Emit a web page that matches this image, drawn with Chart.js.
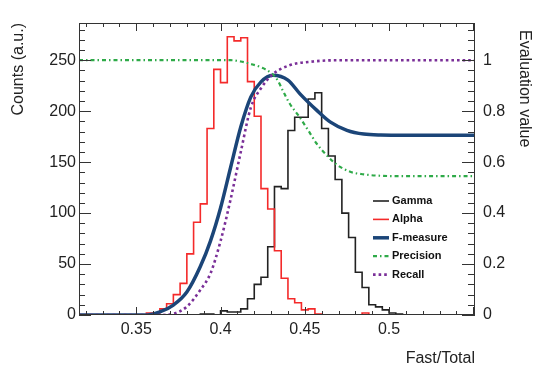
<!DOCTYPE html>
<html>
<head>
<meta charset="utf-8">
<script src="https://cdn.jsdelivr.net/npm/chart.js@4"></script>
<style>
  html, body { margin: 0; padding: 0; background: #fff; }
  canvas { display: block; }
</style>
</head>
<body>
<canvas id="fomChart" width="545" height="372"></canvas>
<script>
// histogram binning (Fast/Total)
const binStart = 0.32;
const binWidth = 0.004;

const gammaCounts = [0,0,0,0,0,0,0,0,0,0, 0,0,0,0,0,0,0,1,1,0,
  4,3,3,6,16,30,37,67,126,124, 181,194,194,212,218,183,156,133,100,76,
  42,27,10,8,5,2,1,0,0,0, 0,0,0,0,0,0,0,0];
const alphaCounts = [0,0,0,0,0,0,0,0,0,2, 2,6,11,20,31,60,91,109,183,241,
  228,273,269,272,229,195,124,104,63,36, 16,12,5,6,1,0,0,0,0,0,
  0,2,0,0,0,0,0,0,0,0, 0,0,0,0,0,0,0,0];

// evaluation curves (right axis)
const fMeasureX = [0.316, 0.350, 0.356, 0.364, 0.372, 0.380, 0.388, 0.394, 0.400, 0.406, 0.412, 0.418,
  0.424, 0.431, 0.440, 0.447, 0.457, 0.465, 0.475, 0.485, 0.495, 0.510, 0.551];
const fMeasureY = [0, 0, 0, 0.012, 0.039, 0.09, 0.19, 0.29, 0.42, 0.58, 0.738, 0.856,
  0.915, 0.941, 0.922, 0.869, 0.804, 0.758, 0.725, 0.71, 0.706, 0.705, 0.705];

const precisionX = [0.316, 0.406, 0.412, 0.418, 0.424, 0.430, 0.434, 0.437, 0.441, 0.446, 0.452,
  0.457, 0.463, 0.469, 0.477, 0.485, 0.493, 0.507, 0.551];
const precisionY = [1, 1, 0.995, 0.985, 0.972, 0.95, 0.92, 0.88, 0.83, 0.785, 0.725,
  0.673, 0.627, 0.59, 0.562, 0.552, 0.547, 0.545, 0.545];

const recallX = [0.316, 0.362, 0.372, 0.380, 0.388, 0.394, 0.400, 0.406, 0.412, 0.418, 0.424,
  0.431, 0.441, 0.455, 0.471, 0.551];
const recallY = [0, 0, 0.005, 0.033, 0.098, 0.163, 0.29, 0.455, 0.64, 0.815, 0.89,
  0.945, 0.98, 0.995, 1.0, 1.0];

// tick labels
const fastTicks = [0.35, 0.4, 0.45, 0.5];
const countTicks = [0, 50, 100, 150, 200, 250];
const evalTicks = [0, 0.2, 0.4, 0.6, 0.8, 1];

const tickFont = { family: 'Liberation Sans, Arial, sans-serif', size: 16 };

function histPoints(counts) {
  const pts = counts.map((c, k) => ({ x: binStart + k * binWidth, y: c }));
  pts.push({ x: binStart + counts.length * binWidth, y: counts[counts.length - 1] });
  return pts;
}
function curvePoints(xs, ys) {
  return xs.map((x, i) => ({ x: x, y: ys[i] }));
}

const rootFrame = {
  id: 'rootFrame',
  afterDatasetsDraw(chart) {
    const { ctx, chartArea: a, scales } = chart;
    const x = scales.x, yl = scales.yCounts, yr = scales.yEval;
    ctx.save();
    ctx.strokeStyle = '#333';
    ctx.lineWidth = 1;
    ctx.beginPath();
    for (let i = 32; i <= 55; i++) {
      const px = Math.round(x.getPixelForValue(i / 100)) + 0.5;
      const len = i % 5 === 0 ? 8 : 4;
      ctx.moveTo(px, a.bottom); ctx.lineTo(px, a.bottom - len);
      ctx.moveTo(px, a.top); ctx.lineTo(px, a.top + len);
    }
    for (let c = 0; c <= 280; c += 10) {
      const py = Math.round(yl.getPixelForValue(c)) + 0.5;
      const len = c % 50 === 0 ? 12 : 6;
      ctx.moveTo(a.left, py); ctx.lineTo(a.left + len, py);
    }
    for (let i = 0; i <= 28; i++) {
      const py = Math.round(yr.getPixelForValue(i * 0.04)) + 0.5;
      const len = i % 5 === 0 ? 13 : 7;
      ctx.moveTo(a.right, py); ctx.lineTo(a.right - len, py);
    }
    ctx.stroke();
    ctx.strokeRect(a.left + 0.5, a.top + 0.5, a.right - a.left - 1, a.bottom - a.top - 1);

    // legend
    ctx.font = 'bold 11px Liberation Sans, Arial, sans-serif';
    ctx.textBaseline = 'middle';
    ctx.fillStyle = '#111';
    chart.data.datasets.forEach((ds, row) => {
      const yy = 201 + row * 18.4;
      ctx.save();
      ctx.strokeStyle = ds.borderColor;
      ctx.lineWidth = ds.borderWidth;
      ctx.setLineDash(ds.borderDash || []);
      ctx.beginPath();
      ctx.moveTo(373, yy); ctx.lineTo(389, yy);
      ctx.stroke();
      ctx.restore();
      ctx.fillText(ds.label, 392, yy);
    });
    ctx.restore();
  },
  afterDraw(chart) {
    const { ctx, chartArea: a } = chart;
    ctx.save();
    ctx.fillStyle = '#222';
    ctx.font = '16px Liberation Sans, Arial, sans-serif';
    ctx.textBaseline = 'middle';
    // left title
    ctx.save();
    ctx.translate(19, a.top);
    ctx.rotate(-Math.PI / 2);
    ctx.textAlign = 'right';
    ctx.fillText('Counts (a.u.)', 0, 0);
    ctx.restore();
    // right title
    ctx.save();
    ctx.translate(524, 30);
    ctx.rotate(Math.PI / 2);
    ctx.textAlign = 'left';
    ctx.fillText('Evaluation value', 0, 0);
    ctx.restore();
    // x title
    ctx.textAlign = 'right';
    ctx.fillText('Fast/Total', a.right, 359);
    ctx.restore();
  }
};

const data = {
  datasets: [
    {
      label: 'Gamma',
      data: histPoints(gammaCounts),
      yAxisID: 'yCounts',
      borderColor: '#222222',
      borderWidth: 1.6,
      stepped: true,
      order: 5
    },
    {
      label: 'Alpha',
      data: histPoints(alphaCounts),
      yAxisID: 'yCounts',
      borderColor: '#f42a2a',
      borderWidth: 1.6,
      stepped: true,
      order: 4
    },
    {
      label: 'F-measure',
      data: curvePoints(fMeasureX, fMeasureY),
      yAxisID: 'yEval',
      borderColor: '#1b4578',
      borderWidth: 3.5,
      cubicInterpolationMode: 'monotone',
      order: 3
    },
    {
      label: 'Precision',
      data: curvePoints(precisionX, precisionY),
      yAxisID: 'yEval',
      borderColor: '#2eaa48',
      borderWidth: 2.2,
      borderDash: [4, 3, 1.5, 3],
      cubicInterpolationMode: 'monotone',
      order: 2
    },
    {
      label: 'Recall',
      data: curvePoints(recallX, recallY),
      yAxisID: 'yEval',
      borderColor: '#7a2f98',
      borderWidth: 2.6,
      borderDash: [2.6, 3],
      cubicInterpolationMode: 'monotone',
      order: 1
    }
  ]
};

const config = {
  type: 'line',
  data: data,
  plugins: [rootFrame],
  options: {
    responsive: false,
    animation: false,
    devicePixelRatio: 1,
    layout: { padding: { top: 23, left: 0, right: 0, bottom: 0 } },
    elements: { point: { radius: 0 }, line: { tension: 0, fill: false } },
    plugins: { legend: { display: false }, tooltip: { enabled: false } },
    scales: {
      x: {
        type: 'linear',
        min: 0.316,
        max: 0.551,
        grid: { display: false, drawTicks: false },
        border: { display: false },
        afterBuildTicks: s => { s.ticks = fastTicks.map(v => ({ value: v })); },
        afterFit: s => { s.height = 57; },
        ticks: {
          padding: 5,
          color: '#222',
          font: tickFont,
          maxRotation: 0,
          autoSkip: false,
          callback: v => String(Math.round(v * 100) / 100)
        }
      },
      yCounts: {
        position: 'left',
        min: 0,
        max: 286.5,
        grid: { display: false, drawTicks: false },
        border: { display: false },
        afterBuildTicks: s => { s.ticks = countTicks.map(v => ({ value: v })); },
        afterFit: s => { s.width = 79; },
        ticks: { padding: 3, color: '#222', font: tickFont }
      },
      yEval: {
        position: 'right',
        min: 0,
        max: 1.146,
        grid: { display: false, drawTicks: false },
        border: { display: false },
        afterBuildTicks: s => { s.ticks = evalTicks.map(v => ({ value: v })); },
        afterFit: s => { s.width = 70; },
        ticks: {
          padding: 8,
          color: '#222',
          font: tickFont,
          callback: v => String(Math.round(v * 10) / 10)
        }
      }
    }
  }
};

window.onload = function() {
  const ctx = document.getElementById('fomChart').getContext('2d');
  new Chart(ctx, config);
};
</script>
</body>
</html>
